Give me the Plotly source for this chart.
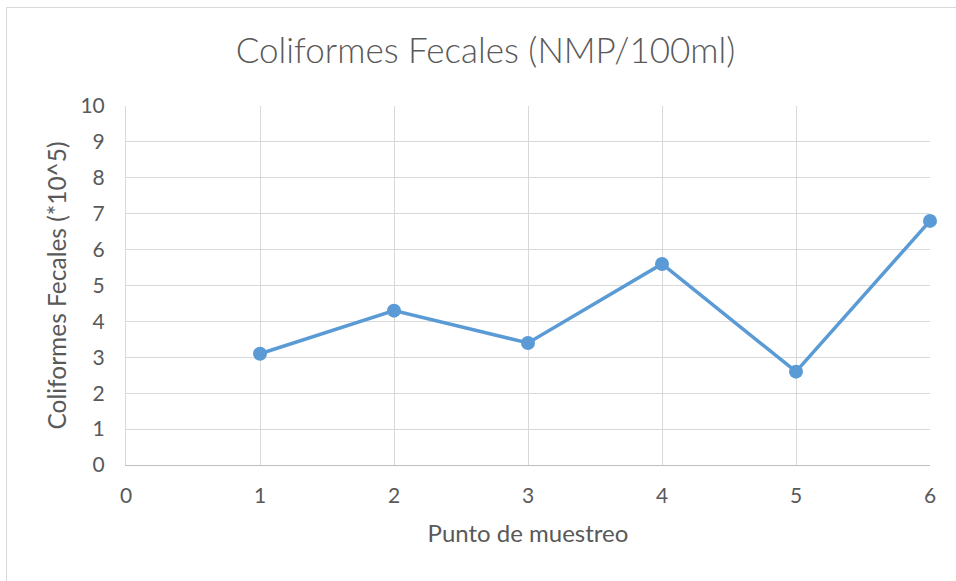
import plotly.graph_objects as go

puntos = [1, 2, 3, 4, 5, 6]
coliformes = [3.1, 4.3, 3.4, 5.6, 2.6, 6.8]
x_ticks = [0, 1, 2, 3, 4, 5, 6]
y_ticks = [0, 1, 2, 3, 4, 5, 6, 7, 8, 9, 10]

W, H = 956, 581
L, R, T, B = 126, 26, 106, 116
pw, ph = W - L - R, H - T - B

def px_x(p):
    return (p - L) / pw

def px_y(p):
    return (H - B - p) / ph

FONT = "Lato, 'Open Sans', sans-serif"
TXT = "#595959"
GRID = "#d9d9d9"

fig = go.Figure()
fig.add_trace(go.Scatter(
    x=puntos, y=coliformes, mode="lines+markers",
    line=dict(color="#5b9bd5", width=3.5),
    marker=dict(color="#5b9bd5", size=14),
    showlegend=False, cliponaxis=False,
))

fig.update_layout(
    width=W, height=H,
    margin=dict(l=L, r=R, t=T, b=B, autoexpand=False),
    paper_bgcolor="white", plot_bgcolor="white",
    font=dict(family=FONT, color=TXT, size=21),
    title=dict(text="Coliformes Fecales (NMP/100ml)", x=485.5 / W, xref="container",
               xanchor="center",
               y=1 - 51 / H, yanchor="middle",
               font=dict(size=35, color=TXT, family=FONT, weight=300)),
    xaxis=dict(range=[0, 6], tickvals=x_ticks, ticktext=[str(v) for v in x_ticks],
               showgrid=True, gridcolor=GRID, gridwidth=1,
               showline=True, linecolor="#bfbfbf", linewidth=1,
               zeroline=False, ticks="outside", ticklen=12, tickcolor="rgba(0,0,0,0)",
               tickfont=dict(size=21, color=TXT),
               title=dict(text="Punto de muestreo", font=dict(size=24, color=TXT), standoff=18)),
    yaxis=dict(range=[0, 10], tickvals=y_ticks, ticktext=[str(v) for v in y_ticks],
               showgrid=True, gridcolor=GRID, gridwidth=1,
               showline=True, linecolor=GRID, linewidth=1,
               zeroline=False, ticks="outside", ticklen=16, tickcolor="rgba(0,0,0,0)",
               tickfont=dict(size=21, color=TXT),
               title=dict(text="Coliformes Fecales (*10^5)", font=dict(size=24.5, color=TXT), standoff=6)),
)

fig.add_shape(type="rect", xref="paper", yref="paper",
              x0=px_x(6.5), x1=px_x(970), y0=px_y(7.5), y1=px_y(600),
              line=dict(color=GRID, width=1), fillcolor="rgba(0,0,0,0)", layer="below")

fig.write_html("out.html", config={"displayModeBar": False},
               post_script="document.body.style.margin='0';document.body.style.overflow='hidden';")
